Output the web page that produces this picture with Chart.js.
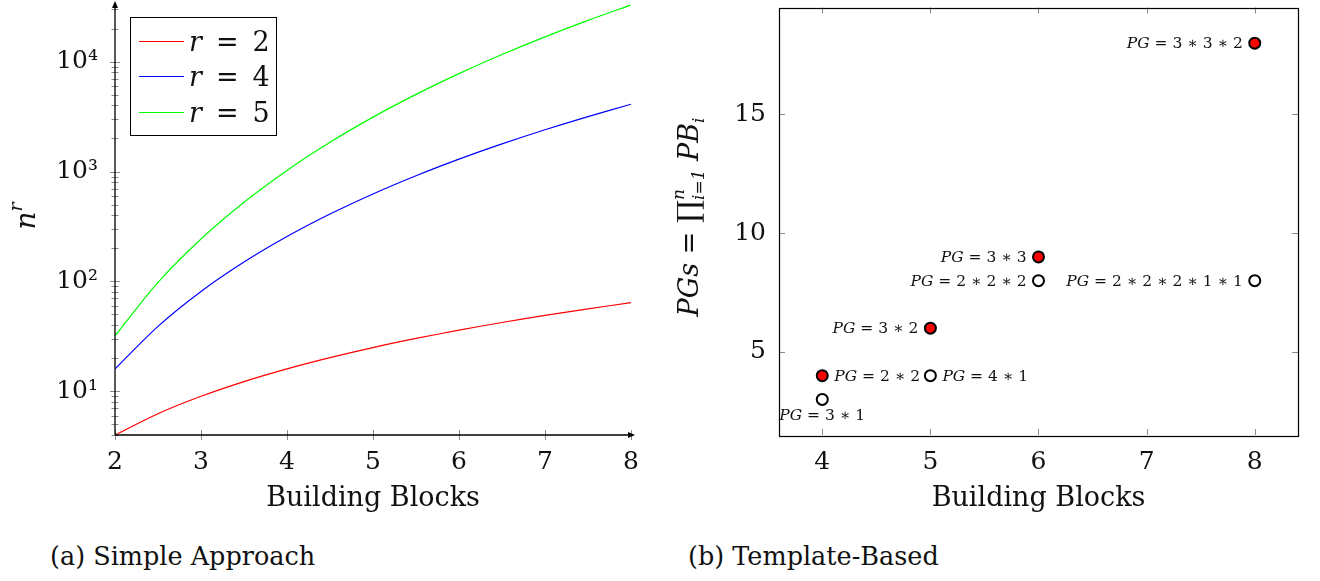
<!DOCTYPE html>
<html>
<head>
<meta charset="utf-8">
<script src="https://cdn.jsdelivr.net/npm/chart.js@4.4.0/dist/chart.umd.min.js"></script>
<style>
  body { margin: 0; background: #fff; width: 1320px; height: 581px; position: relative; overflow: hidden; }
  canvas { position: absolute; top: 0; }
  #chartA { left: 0; }
  #chartB { left: 660px; }
  .cap { position: absolute; top: 541px; font-family: 'DejaVu Serif', 'Liberation Serif', serif; font-size: 25.5px; color: #111; white-space: nowrap; }
</style>
</head>
<body>
<canvas id="chartA" width="660" height="520"></canvas>
<canvas id="chartB" width="660" height="520"></canvas>
<div class="cap" style="left:50px">(a) Simple Approach</div>
<div class="cap" style="left:688px">(b) Template-Based</div>
<script>
// ---- panel (a) data ----
const blocks = [2, 2.5, 3, 3.5, 4, 4.5, 5, 5.5, 6, 6.5, 7, 7.5, 8];
const seriesR2 = [4, 6.25, 9, 12.25, 16, 20.25, 25, 30.25, 36, 42.25, 49, 56.25, 64];
const seriesR4 = [16, 39, 81, 150, 256, 410, 625, 915, 1296, 1785, 2401, 3164, 4096];
const seriesR5 = [32, 98, 243, 525, 1024, 1845, 3125, 5033, 7776, 11603, 16807, 23730, 32768];
const seriesNames = ['2', '4', '5'];
const seriesColors = ['#ff0000', '#0000ff', '#00ff00'];
const logMajor = [10, 100, 1000, 10000];
const logLabels = ['10¹', '10²', '10³', '10⁴'];

// ---- panel (b) data ----
const refinedX = [4, 5, 6, 8];
const refinedY = [4, 6, 9, 18];
const refinedText = ['2 ∗ 2', '3 ∗ 2', '3 ∗ 3', '3 ∗ 3 ∗ 2'];
const refinedPos = ['right', 'left', 'left', 'left'];
const plainX = [4, 5, 6, 8];
const plainY = [3, 4, 8, 8];
const plainText = ['3 ∗ 1', '4 ∗ 1', '2 ∗ 2 ∗ 2', '2 ∗ 2 ∗ 2 ∗ 1 ∗ 1'];
const plainPos = ['below', 'right', 'left', 'left'];

const FONT = "'DejaVu Serif', 'Liberation Serif', serif";
Chart.defaults.font.family = FONT;
Chart.defaults.color = '#111';

function fontOf(p) {
    return (p.it ? 'italic ' : '') + (p.sz || 26) + 'px ' + FONT;
}
function partWidth(ctx, p) {
    if (p.stack) {
        return Math.max(...p.stack.map(s => partWidth(ctx, s)));
    }
    ctx.font = fontOf(p);
    return ctx.measureText(p.t).width;
}
function drawRich(ctx, parts, x, y, align) {
    let w = 0;
    parts.forEach(p => { w += partWidth(ctx, p); });
    let cx = x;
    if (align === 'center') cx = x - w / 2;
    if (align === 'right') cx = x - w;
    ctx.textAlign = 'left';
    ctx.textBaseline = 'alphabetic';
    parts.forEach(p => {
        const pw = partWidth(ctx, p);
        const list = p.stack ? p.stack : [p];
        list.forEach(s => {
            ctx.font = fontOf(s);
            ctx.fillText(s.t, cx, y + (s.dy || 0));
        });
        cx += pw;
    });
}
function line(ctx, x1, y1, x2, y2) {
    ctx.beginPath();
    ctx.moveTo(x1, y1);
    ctx.lineTo(x2, y2);
    ctx.stroke();
}
function toPoints(xs, ys) {
    return xs.map((x, i) => ({ x: x, y: ys[i] }));
}
function noPad(scale) {
    scale.paddingTop = 0;
    scale.paddingBottom = 0;
    scale.paddingLeft = 0;
    scale.paddingRight = 0;
}

// ---------------- panel (a) ----------------
const axesA = {
    id: 'axesA',
    afterDraw(chart) {
        const { ctx, chartArea: a, scales: { x, y } } = chart;
        ctx.save();
        ctx.strokeStyle = '#8a8a8a';
        ctx.lineWidth = 1;
        x.ticks.forEach(t => {
            const px = Math.round(x.getPixelForValue(t.value)) + 0.5;
            line(ctx, px, a.bottom - 5, px, a.bottom + 5);
        });
        y.ticks.forEach(t => {
            const py = Math.round(y.getPixelForValue(t.value)) + 0.5;
            const L = t.major ? 5 : 3.5;
            line(ctx, a.left - L, py, a.left + L, py);
        });
        ctx.strokeStyle = '#000';
        ctx.fillStyle = '#000';
        ctx.lineWidth = 1.3;
        line(ctx, a.left, a.bottom, a.left, a.top - 2);
        line(ctx, a.left, a.bottom, a.right + 2, a.bottom);
        ctx.beginPath();
        ctx.moveTo(a.left, a.top - 4);
        ctx.lineTo(a.left - 3, a.top + 3);
        ctx.lineTo(a.left + 3, a.top + 3);
        ctx.closePath();
        ctx.fill();
        ctx.beginPath();
        ctx.moveTo(a.right + 4, a.bottom);
        ctx.lineTo(a.right - 3, a.bottom - 3);
        ctx.lineTo(a.right - 3, a.bottom + 3);
        ctx.closePath();
        ctx.fill();

        // y title n^r
        ctx.fillStyle = '#111';
        ctx.save();
        ctx.translate(35, 216);
        ctx.rotate(-Math.PI / 2);
        drawRich(ctx, [{ t: 'n', it: 1, sz: 28 }, { t: 'r', it: 1, sz: 19, dy: -13 }], 0, 0, 'center');
        ctx.restore();

        // legend box
        ctx.lineWidth = 1;
        ctx.strokeStyle = '#000';
        ctx.strokeRect(130.5, 17.5, 146, 118);
        const rows = [41, 76, 112];
        chart.data.datasets.forEach((ds, i) => {
            ctx.strokeStyle = ds.borderColor;
            ctx.lineWidth = 1.2;
            line(ctx, 139, rows[i] + 0.5, 184, rows[i] + 0.5);
            ctx.fillStyle = '#111';
            drawRich(ctx, [{ t: 'r', it: 1, sz: 27 }, { t: ' \u2009=\u2009 ' + seriesNames[i], sz: 27 }], 189, rows[i] + 10, 'left');
        });
        ctx.restore();
    }
};

const logTicks = [];
[1, 10, 100, 1000, 10000].forEach(d => {
    for (let k = 1; k <= 9; k++) {
        const v = k * d;
        if (v >= 4 && v <= 32768) logTicks.push(v);
    }
});

new Chart(document.getElementById('chartA'), {
    type: 'line',
    data: {
        datasets: [seriesR2, seriesR4, seriesR5].map((s, i) => ({
            label: 'r = ' + seriesNames[i],
            data: toPoints(blocks, s),
            borderColor: seriesColors[i],
            borderWidth: 1.2,
            pointRadius: 0,
            tension: 0.3,
            fill: false
        }))
    },
    options: {
        responsive: false,
        animation: false,
        devicePixelRatio: 1,
        layout: { padding: { top: 5, right: 29, left: 0, bottom: 0 } },
        plugins: { legend: { display: false }, tooltip: { enabled: false } },
        scales: {
            x: {
                type: 'linear', min: 2, max: 8,
                grid: { display: false, drawTicks: false },
                border: { display: false },
                ticks: { stepSize: 1, padding: 12, font: { size: 25 }, color: '#111', maxRotation: 0 },
                title: { display: true, text: 'Building Blocks', font: { size: 27 }, color: '#111', padding: { top: 0, bottom: 5 } },
                afterFit(scale) { scale.height = 85; noPad(scale); }
            },
            y: {
                type: 'logarithmic', min: 4, max: 32768,
                grid: { display: false, drawTicks: false },
                border: { display: false },
                afterBuildTicks(scale) {
                    scale.ticks = logTicks.map(v => ({ value: v, major: logMajor.includes(v) }));
                },
                ticks: {
                    autoSkip: false, padding: 17, font: { size: 25 }, color: '#111',
                    callback(v) {
                        const i = logMajor.indexOf(v);
                        return i >= 0 ? logLabels[i] : '';
                    }
                },
                afterFit(scale) { scale.width = 115; noPad(scale); }
            }
        }
    },
    plugins: [axesA]
});

// ---------------- panel (b) ----------------
const frameB = {
    id: 'frameB',
    afterDraw(chart) {
        const { ctx, chartArea: a, scales: { x, y } } = chart;
        ctx.save();
        ctx.strokeStyle = '#8a8a8a';
        ctx.lineWidth = 1;
        x.ticks.forEach(t => {
            const px = Math.round(x.getPixelForValue(t.value)) + 0.5;
            line(ctx, px, a.bottom, px, a.bottom - 6);
            line(ctx, px, a.top, px, a.top + 6);
        });
        y.ticks.forEach(t => {
            const py = Math.round(y.getPixelForValue(t.value)) + 0.5;
            line(ctx, a.left, py, a.left + 6, py);
            line(ctx, a.right, py, a.right - 6, py);
        });
        ctx.strokeStyle = '#000';
        ctx.lineWidth = 1.2;
        ctx.strokeRect(Math.round(a.left) + 0.5, Math.round(a.top) + 0.5, Math.round(a.right - a.left), Math.round(a.bottom - a.top));

        // point labels
        ctx.fillStyle = '#111';
        const sets = [[refinedText, refinedPos], [plainText, plainPos]];
        chart.data.datasets.forEach((ds, di) => {
            const meta = chart.getDatasetMeta(di);
            meta.data.forEach((pt, i) => {
                const parts = [{ t: 'PG', it: 1, sz: 15.5 }, { t: ' = ' + sets[di][0][i], sz: 15.5 }];
                const pos = sets[di][1][i];
                if (pos === 'left') drawRich(ctx, parts, pt.x - 12, pt.y + 5, 'right');
                else if (pos === 'right') drawRich(ctx, parts, pt.x + 12, pt.y + 5, 'left');
                else drawRich(ctx, parts, pt.x, pt.y + 21, 'center');
            });
        });

        // y title
        ctx.save();
        ctx.translate(38, 217);
        ctx.rotate(-Math.PI / 2);
        drawRich(ctx, [
            { t: 'PGs', it: 1, sz: 27 },
            { t: ' = ', sz: 27 },
            { t: '∏', sz: 29 },
            { stack: [{ t: 'n', it: 1, sz: 17, dy: -14 }, { t: 'i=1', it: 1, sz: 17, dy: 6 }] },
            { t: ' PB', it: 1, sz: 27 },
            { t: 'i', it: 1, sz: 17, dy: 6 }
        ], 0, 0, 'center');
        ctx.restore();
        ctx.restore();
    }
};

new Chart(document.getElementById('chartB'), {
    type: 'scatter',
    data: {
        datasets: [
            {
                label: 'refined',
                data: toPoints(refinedX, refinedY),
                pointRadius: 5.5,
                pointBackgroundColor: '#ff0000',
                pointBorderColor: '#000',
                pointBorderWidth: 2
            },
            {
                label: 'plain',
                data: toPoints(plainX, plainY),
                pointRadius: 5.5,
                pointBackgroundColor: '#ffffff',
                pointBorderColor: '#000',
                pointBorderWidth: 2
            }
        ]
    },
    options: {
        responsive: false,
        animation: false,
        devicePixelRatio: 1,
        layout: { padding: { top: 5, right: 22, left: 0, bottom: 0 } },
        plugins: { legend: { display: false }, tooltip: { enabled: false } },
        scales: {
            x: {
                type: 'linear', min: 3.6, max: 8.4,
                grid: { display: false, drawTicks: false },
                border: { display: false },
                ticks: { stepSize: 1, includeBounds: false, padding: 12, font: { size: 25 }, color: '#111', maxRotation: 0 },
                title: { display: true, text: 'Building Blocks', font: { size: 27 }, color: '#111', padding: { top: 0, bottom: 5 } },
                afterFit(scale) { scale.height = 85; noPad(scale); }
            },
            y: {
                type: 'linear', min: 1.5, max: 19.5,
                grid: { display: false, drawTicks: false },
                border: { display: false },
                ticks: { stepSize: 5, includeBounds: false, padding: 13, font: { size: 25 }, color: '#111' },
                afterFit(scale) { scale.width = 119; noPad(scale); }
            }
        }
    },
    plugins: [frameB]
});
</script>
</body>
</html>
